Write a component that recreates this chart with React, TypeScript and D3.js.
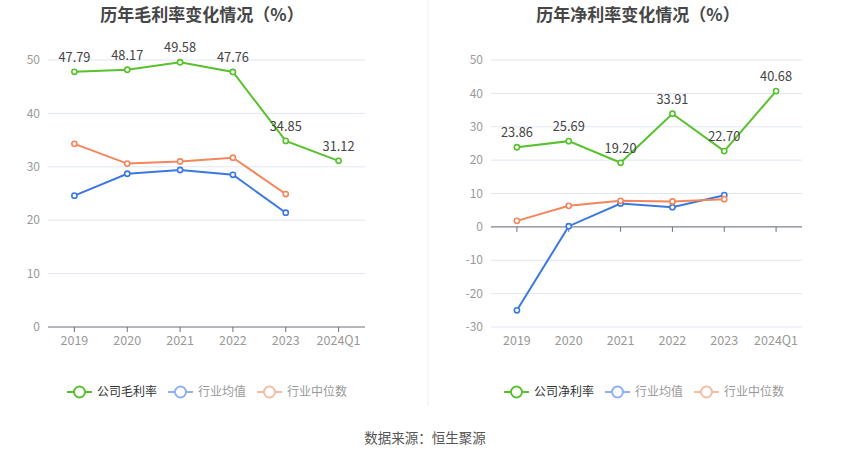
import * as d3 from "d3";

const years = ["2019", "2020", "2021", "2022", "2023", "2024Q1"];

// 毛利率
const grossCompany = [47.79, 48.17, 49.58, 47.76, 34.85, 31.12];
const grossAvg = [24.6, 28.7, 29.4, 28.5, 21.4];
const grossMedian = [34.3, 30.6, 31.0, 31.7, 24.9];
const grossTicks = [0, 10, 20, 30, 40, 50];

// 净利率
const netCompany = [23.86, 25.69, 19.2, 33.91, 22.7, 40.68];
const netAvg = [-25.0, 0.2, 7.0, 5.9, 9.5];
const netMedian = [1.8, 6.3, 7.8, 7.6, 8.3];
const netTicks = [-30, -20, -10, 0, 10, 20, 30, 40, 50];

const GREEN = "#57c22d";
const BLUE = "#3b78e0";
const ORANGE = "#f5855b";
const FONT = "'Noto Sans CJK SC', 'Noto Sans', sans-serif";

interface PanelProps {
  title: string;
  titleX: number;
  left: number;
  right: number;
  labelX: number;
  legendX: number;
  company: number[];
  avg: number[];
  median: number[];
  ticks: number[];
  legendName: string;
}

function Panel(p: PanelProps) {
  const x = d3.scaleBand<string>().domain(years).range([p.left, p.right]);
  const y = d3
    .scaleLinear()
    .domain([p.ticks[0], p.ticks[p.ticks.length - 1]])
    .range([327, 60]);
  const cx = (i: number) => (x(years[i]) ?? 0) + x.bandwidth() / 2;
  const line = d3
    .line<number>()
    .x((_, i) => cx(i))
    .y((d) => y(d));

  const series = [
    { data: p.avg, color: BLUE },
    { data: p.median, color: ORANGE },
    { data: p.company, color: GREEN },
  ];

  const legend = [
    { name: p.legendName, color: GREEN, text: "#333" },
    { name: "行业均值", color: "#8fb0f2", text: "#999" },
    { name: "行业中位数", color: "#f9bba3", text: "#999" },
  ];
  let lx = p.legendX;
  const legendPos = legend.map((l) => {
    const pos = lx;
    lx += 30 + l.name.length * 12 + 11;
    return pos;
  });

  const zeroY = y(Math.max(p.ticks[0], 0));

  return (
    <g>
      <text
        x={p.titleX}
        y={21}
        textAnchor="middle"
        fontSize={17}
        fontWeight="bold"
        fill="#464646"
      >
        {p.title}
      </text>
      {p.ticks.map((t) => (
        <g key={t}>
          {t !== 0 || p.ticks[0] < 0 ? (
            <line
              x1={p.left}
              x2={p.right}
              y1={y(t)}
              y2={y(t)}
              stroke="#e0e6f1"
              strokeWidth={1}
            />
          ) : null}
          <text
            x={p.labelX}
            y={y(t)}
            dy="0.35em"
            textAnchor="end"
            fontSize={12}
            fill="#999"
          >
            {t}
          </text>
        </g>
      ))}
      <line x1={p.left} x2={p.right} y1={zeroY} y2={zeroY} stroke="#6e7079" strokeWidth={1} />
      {years.map((yr, i) => (
        <g key={yr}>
          <line x1={cx(i)} x2={cx(i)} y1={zeroY} y2={zeroY + 5} stroke="#6e7079" />
          <text x={cx(i)} y={345} textAnchor="middle" fontSize={12.5} fill="#999">
            {yr}
          </text>
        </g>
      ))}
      {series.map((s, k) => (
        <g key={k}>
          <path d={line(s.data) ?? ""} fill="none" stroke={s.color} strokeWidth={2} />
          {s.data.map((d, i) => (
            <circle
              key={i}
              cx={cx(i)}
              cy={y(d)}
              r={2.6}
              fill="#fff"
              stroke={s.color}
              strokeWidth={1.6}
            />
          ))}
        </g>
      ))}
      {p.company.map((d, i) => (
        <text
          key={i}
          x={cx(i)}
          y={y(d) - 10}
          textAnchor="middle"
          fontSize={12.8}
          fill="#444"
        >
          {d.toFixed(2)}
        </text>
      ))}
      {legend.map((l, i) => (
        <g key={l.name} transform={`translate(${legendPos[i]},392)`}>
          <line x1={0} x2={25} y1={0} y2={0} stroke={l.color} strokeWidth={2} />
          <circle cx={12.5} cy={0} r={5.5} fill="#fff" stroke={l.color} strokeWidth={2} />
          <text x={30} y={0} dy="0.35em" fontSize={12} fill={l.text}>
            {l.name}
          </text>
        </g>
      ))}
    </g>
  );
}

export default function App() {
  return (
    <div style={{ position: "absolute", left: 0, top: 0 }}>
      <svg width={850} height={459} style={{ display: "block", fontFamily: FONT }}>
        <rect width={850} height={459} fill="#fff" />
        <line x1={428} x2={428} y1={0} y2={406} stroke="#eeeeee" strokeWidth={1} />
        <Panel
          title="历年毛利率变化情况（%）"
          titleX={202}
          left={48}
          right={365}
          labelX={40}
          legendX={67}
          company={grossCompany}
          avg={grossAvg}
          median={grossMedian}
          ticks={grossTicks}
          legendName="公司毛利率"
        />
        <Panel
          title="历年净利率变化情况（%）"
          titleX={638}
          left={491}
          right={802}
          labelX={483}
          legendX={504}
          company={netCompany}
          avg={netAvg}
          median={netMedian}
          ticks={netTicks}
          legendName="公司净利率"
        />
        <text x={425} y={443} textAnchor="middle" fontSize={13.5} fill="#555">
          数据来源：恒生聚源
        </text>
      </svg>
    </div>
  );
}
